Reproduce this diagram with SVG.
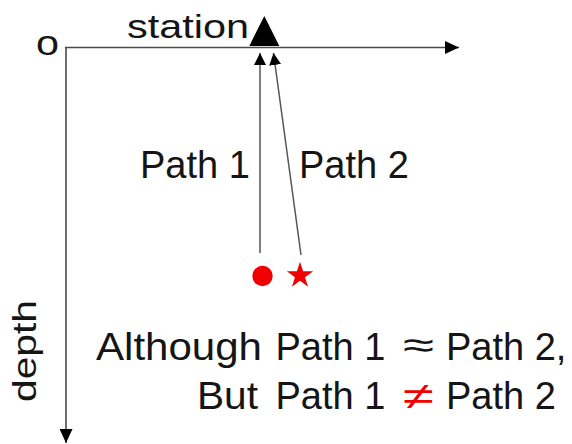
<svg xmlns="http://www.w3.org/2000/svg" width="572" height="444" viewBox="0 0 572 444">
<style>
  .t { font-family: "Liberation Sans", Arial, sans-serif; fill: #151515; }
  .ax { stroke: #4a4a4a; stroke-width: 1.6; fill: none; }
  .ray { stroke: #555; stroke-width: 1.5; fill: none; }
  .red { fill: #f00000; }
</style>
<defs>
  <marker id="axHead" markerUnits="userSpaceOnUse" markerWidth="14" markerHeight="13" refX="14" refY="6.5" orient="auto">
    <path d="M0,0 L14,6.5 L0,13 z" fill="#000"/>
  </marker>
  <marker id="rayHead" markerUnits="userSpaceOnUse" markerWidth="12" markerHeight="12" refX="12" refY="6" orient="auto">
    <path d="M0,0 L12,6 L0,12 z" fill="#000"/>
  </marker>
</defs>
<rect width="572" height="444" fill="#fff"/>

<g id="connectors">
  <line class="ax" x1="65" y1="47.5" x2="459" y2="47.5" marker-end="url(#axHead)"/>
  <line class="ax" x1="66" y1="47" x2="66" y2="443" marker-end="url(#axHead)"/>
  <line class="ray" x1="260" y1="253" x2="260" y2="53" marker-end="url(#rayHead)"/>
  <line class="ray" x1="301" y1="255" x2="273.5" y2="53" marker-end="url(#rayHead)"/>
</g>

<g id="origin">
  <text class="t" x="36" y="54.5" font-size="35" textLength="23" lengthAdjust="spacingAndGlyphs">o</text>
</g>

<g id="station">
  <polygon points="264.3,16 249.3,46 279.3,46" fill="#000"/>
  <text class="t" x="127" y="38" font-size="33" textLength="122" lengthAdjust="spacingAndGlyphs">station</text>
</g>

<g id="depth-label">
  <text class="t" x="36" y="402" font-size="34" textLength="102" lengthAdjust="spacingAndGlyphs" transform="rotate(-90 36 402)">depth</text>
</g>

<g id="path1-label">
  <text class="t" x="140" y="178.3" font-size="38">Path 1</text>
</g>
<g id="path2-label">
  <text class="t" x="299" y="178.3" font-size="38">Path 2</text>
</g>

<g id="source-circle">
  <circle class="red" cx="262.5" cy="276" r="10.2"/>
</g>
<g id="source-star">
  <polygon class="red" points="300,261.7 303.1,271.24 313.13,271.24 305.01,277.13 308.11,286.66 300,280.77 291.89,286.66 294.99,277.13 286.87,271.24 296.9,271.24"/>
</g>

<g id="statement">
  <text class="t" x="96" y="359.5" font-size="38" textLength="166" lengthAdjust="spacingAndGlyphs">Although</text>
  <text class="t" x="275.5" y="359.5" font-size="38">Path 1</text>
  <text class="t" x="403" y="357.5" font-size="38" textLength="31" lengthAdjust="spacingAndGlyphs">≈</text>
  <text class="t" x="446" y="359.5" font-size="38">Path 2,</text>
  <text class="t" x="197" y="409" font-size="38" textLength="61" lengthAdjust="spacingAndGlyphs">But</text>
  <text class="t" x="275.5" y="409" font-size="38">Path 1</text>
  <text class="red" x="403" y="409" font-size="38" font-family="Liberation Sans, Arial, sans-serif" textLength="31" lengthAdjust="spacingAndGlyphs">≠</text>
  <text class="t" x="446" y="409" font-size="38">Path 2</text>
</g>
</svg>
